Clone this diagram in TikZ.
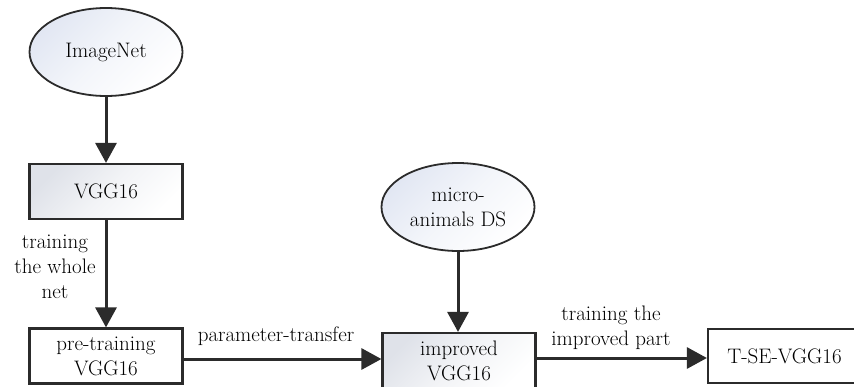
\documentclass[tikz,border=0pt]{standalone}
\usepackage{fontspec}
\usetikzlibrary{arrows.meta,shapes.geometric}
\definecolor{ink}{HTML}{2B2B2B}
\definecolor{blueshade}{HTML}{E2E7F3}
\definecolor{greyshade}{HTML}{DFE2E9}
\tikzset{
  txt/.style={font=\fontsize{21}{25}\selectfont, text=black, align=center},
  oval/.style={txt, ellipse, draw=ink, line width=1.8pt, minimum width=153pt,
    minimum height=88pt, inner sep=0pt,
    top color=blueshade, bottom color=white, middle color=blueshade!40!white,
    shading angle=45},
  plainbox/.style={txt, rectangle, draw=ink, line width=2.2pt, fill=white,
    minimum width=153pt, minimum height=55pt, inner sep=0pt},
  shadebox/.style={plainbox, top color=greyshade, bottom color=white,
    middle color=greyshade!40!white, shading angle=45},
  arr/.style={draw=ink, line width=3pt, -{Triangle[length=20pt,width=21pt]}},
  lbl/.style={txt}
}
\begin{document}
\begin{tikzpicture}[x=1pt,y=-1pt]
  \useasboundingbox (0,0) rectangle (854,386);

  % nodes
  \node[oval] (imagenet) at (106,52) {ImageNet};
  \node[shadebox] (vgg) at (106,191.5) {VGG16};
  \node[plainbox] (pre) at (106,356) {pre-training\\VGG16};
  \node[oval] (micro) at (458,207) {micro-\\animals DS};
  \node[shadebox, minimum height=56pt] (imp) at (459,361) {improved\\VGG16};
  \node[plainbox, minimum height=54pt] (tse) at (784.5,356) {T-SE-VGG16};

  % connectors
  \draw[arr] (imagenet.south -| vgg.north) -- (vgg.north);
  \draw[arr] (vgg.south) -- (pre.north);
  \draw[arr] (micro.south) -- (micro.south |- imp.north);
  \coordinate (pmid) at (pre.east |- 0,359);
  \draw[arr] (pmid) -- (pmid -| imp.west);
  \coordinate (imid) at (imp.east |- 0,358);
  \draw[arr] (imid) -- (imid -| tse.west);

  % labels
  \node[lbl] (l1) at (55,267) {training\\the whole\\net};
  \node[lbl] (l2) at (276,336) {parameter-transfer};
  \node[lbl] (l3) at (611,328) {training the\\improved part};
\end{tikzpicture}
\end{document}
